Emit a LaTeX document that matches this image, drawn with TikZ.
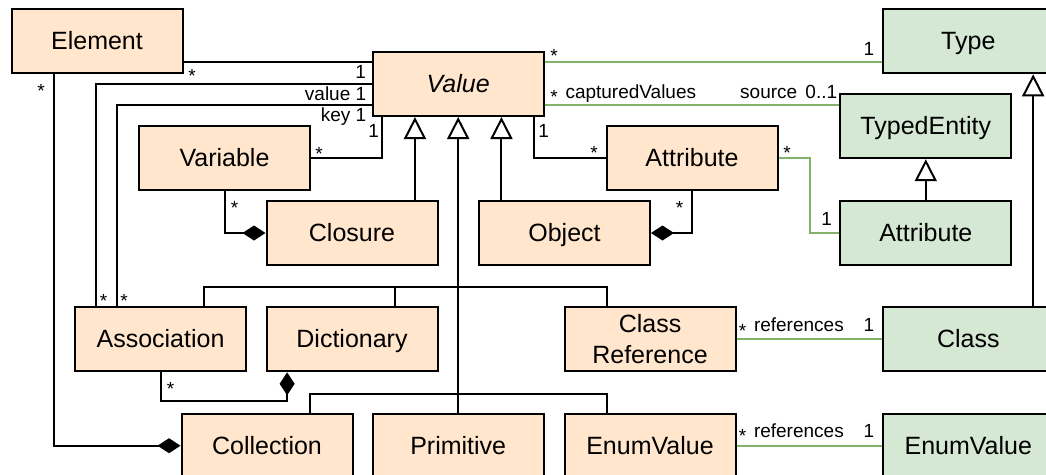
\documentclass[tikz,border=0pt]{standalone}
\usepackage{fontspec}
\setmainfont{Liberation Sans}
\usetikzlibrary{arrows.meta,calc}
\definecolor{clsfill}{HTML}{FFE6CC}
\definecolor{typefill}{HTML}{D5E8D4}
\definecolor{typeline}{HTML}{82B366}
\begin{document}
\begin{tikzpicture}[x=1pt,y=-1pt,
  boxbase/.style={draw=black, line width=2pt, minimum width=171pt, minimum height=64pt,
    inner sep=0pt, font=\fontsize{25}{31}\selectfont},
  box/.style={boxbase, text height=22.6pt, text depth=5.3pt},
  cls/.style={box, fill=clsfill},
  typ/.style={box, fill=typefill},
  link/.style={line width=2pt, draw=black},
  tlink/.style={line width=2pt, draw=typeline},
  gen/.style={link, -{Triangle[open, fill=white, length=22pt, width=22pt]}},
  comp/.style={link, -{Diamond[length=23pt, width=15pt]}},
  lab/.style={inner sep=0pt, font=\fontsize{19}{22}\selectfont},
  star/.style={lab, anchor=base},
]
\useasboundingbox (0,0) rectangle (1046,474);

% classes of the value model
\node[cls] (element)    at (97,41.3)    {Element};
\node[cls] (value)      at (458.2,84)   {\itshape Value};
\node[cls] (variable)   at (224.5,158.3) {Variable};
\node[cls] (attr)       at (692,158.3)  {Attribute};
\node[cls] (closure)    at (352,233)    {Closure};
\node[cls] (object)     at (564.5,233)  {Object};
\node[cls] (assoc)      at (160.5,339.3) {Association};
\node[cls] (dict)       at (352,339.3)  {Dictionary};
\node[boxbase, fill=clsfill, align=center] (classref) at (650,339.3) {Class\\Reference};
\node[cls] (collection) at (267,445.7)  {Collection};
\node[cls] (primitive)  at (458.2,445.7) {Primitive};
\node[cls] (enumval)    at (650,445.7)  {EnumValue};

% classes of the type model
\node[typ] (type)        at (968.3,41.3)  {Type};
\node[typ] (typedentity) at (925.8,126.2) {TypedEntity};
\node[typ] (tattr)       at (925.8,232.5) {Attribute};
\node[typ] (class)       at (968.3,339.3) {Class};
\node[typ] (tenum)       at (968.3,445.7) {EnumValue};

% attachment points on Value and the two generalization buses
\coordinate (g1) at ($(value.south west)!.25!(value.south east)$);
\coordinate (g3) at ($(value.south west)!.75!(value.south east)$);
\coordinate (bus1) at ($(value.south)+(0,170)$);
\coordinate (bus2) at ($(value.south)+(0,277)$);
\coordinate (e1) at ($(element.east)+(0,21)$);
\coordinate (v1) at ($(value.east)+(0,-22)$);
\coordinate (v2) at ($(value.east)+(0,21.3)$);

% associations inside the value model
\draw[link] (e1) -- (e1 -| value.west);
\draw[link] ($(assoc.north west)!.125!(assoc.north east)$) |- (value.west);
\draw[link] ($(assoc.north west)!.25!(assoc.north east)$) |- ($(value.west)+(0,21.3)$);
\draw[link] (variable.east) -| ($(value.south west)+(10.5,0)$);
\draw[link] ($(value.south east)+(-11,0)$) |- (attr.west);

% compositions
\draw[comp] (variable.south) |- (closure.west);
\draw[comp] (attr.south) |- (object.east);
\draw[comp] (assoc.south) -- ++(0,29) -| ($(dict.south west)!.125!(dict.south east)$);
\draw[comp] ($(element.south west)!.25!(element.south east)$) |- (collection.west);

% generalizations to Value
\draw[gen] (closure.north -| g1) -- (g1);
\draw[gen] (object.north -| g3) -- (g3);
\draw[gen] (primitive.north) -- (value.south);
\draw[link] ($(assoc.north west)!.75!(assoc.north east)$) |- (bus1)
  -| ($(classref.north west)!.25!(classref.north east)$);
\draw[link] ($(dict.north west)!.75!(dict.north east)$) coordinate (d3) -- (d3 |- bus1);
\draw[link] ($(collection.north west)!.75!(collection.north east)$) |- (bus2)
  -| ($(enumval.north west)!.25!(enumval.north east)$);

% links into the type model
\draw[tlink] (v1) -- (v1 -| type.west);
\draw[tlink] (v2) -- (v2 -| typedentity.west);
\draw[tlink] (attr.east) -- ++(31.5,0) |- (tattr.west);
\draw[tlink] (classref.east) -- (class.west);
\draw[tlink] (enumval.east) -- (tenum.west);

% generalizations in the type model
\draw[gen] (tattr.north) -- (typedentity.south);
\draw[gen] ($(class.north west)!.875!(class.north east)$) -- ($(type.south west)!.875!(type.south east)$);

% multiplicities and role names
\node[star] (s1) at (192,82) {*};
\node[lab, anchor=base] (m1) at (360.7,78) {1};
\node[lab, anchor=base east] (m2) at (366.4,100) {value 1};
\node[lab, anchor=base east] (m3) at (366.4,121) {key 1};
\node[lab, anchor=base] (m4) at (373.7,137) {1};
\node[star] (s2) at (319,160) {*};
\node[star] (s3) at (103.5,307) {*};
\node[star] (s4) at (124,307) {*};
\node[star] (s5) at (234.5,214) {*};
\node[star] (s6) at (41,97) {*};
\node[star] (s7) at (170.5,395.4) {*};
\node[lab, anchor=base] (m5) at (543.7,137.5) {1};
\node[star] (s8) at (594,159) {*};
\node[star] (s9) at (679.5,214.4) {*};
\node[star] (s10) at (787,159) {*};
\node[lab, anchor=base] (m6) at (826.7,225) {1};
\node[star] (s11) at (554,62.4) {*};
\node[lab, anchor=base] (m7) at (869,55) {1};
\node[star] (s12) at (554,103) {*};
\node[lab, anchor=base west] (m8) at (565.3,98) {capturedValues};
\node[lab, anchor=base east] (m9) at (837.4,98) {source\hspace{3pt} 0..1};
\node[star] (s13) at (742.5,337) {*};
\node[lab, anchor=base west] (m10) at (753.8,331.7) {references};
\node[lab, anchor=base] (m11) at (869,331.7) {1};
\node[star] (s14) at (742.5,442) {*};
\node[lab, anchor=base west] (m12) at (753.8,437.3) {references};
\node[lab, anchor=base] (m13) at (869,437.3) {1};
\end{tikzpicture}
\end{document}
